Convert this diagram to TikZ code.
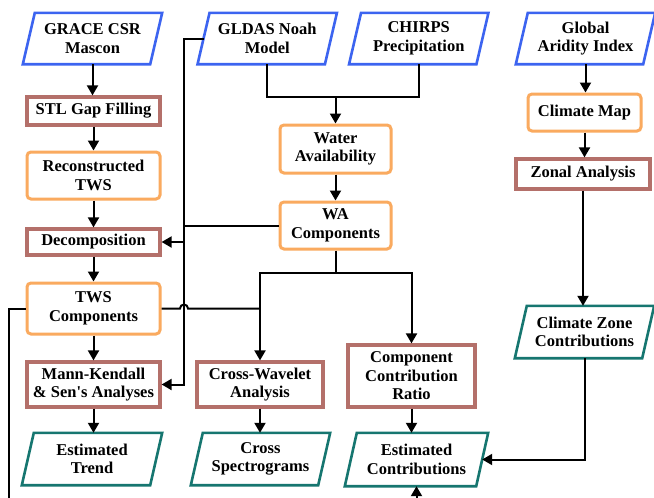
\documentclass[tikz,border=0pt]{standalone}
\usepackage{fontspec}
\setmainfont{Liberation Serif}
\usetikzlibrary{arrows.meta,positioning}
\definecolor{inblue}{RGB}{60,100,240}
\definecolor{procbrown}{RGB}{180,112,106}
\definecolor{midorange}{RGB}{250,170,95}
\definecolor{outteal}{RGB}{22,118,112}
\newcommand\paral[2]{\draw[#2,line width=2.6pt,line join=miter] ([xshift=6pt]#1.north west) -- ([xshift=6pt]#1.north east) -- ([xshift=-6pt]#1.south east) -- ([xshift=-6pt]#1.south west) -- cycle;}
\begin{document}
\begin{tikzpicture}[x=1pt,y=-1pt,
  every node/.style={font=\fontsize{16.5}{18.5}\selectfont\bfseries, align=center, inner sep=0pt},
  parabox/.style={draw=none, minimum height=51pt, minimum width=127pt},
  procbox/.style={draw=procbrown, line width=3.2pt, minimum width=133pt},
  midbox/.style={draw=midorange, line width=3pt, rounded corners=4pt, minimum width=133pt},
  conn/.style={line width=2pt, black},
  arr/.style={conn, -{Triangle[length=10pt,width=11pt]}}]
\useasboundingbox (0,0) rectangle (654,498);
\clip (0,0) rectangle (654,498);
\fill[white] (0,0) rectangle (654,498);
% inputs
\node[parabox] (grace) at (92.5,38.5) {GRACE CSR\\Mascon};
\node[parabox] (gldas) at (267.25,38.5) {GLDAS Noah\\Model};
\node[parabox] (chirps) at (418.75,38.5) {CHIRPS\\Precipitation};
\node[parabox] (arid) at (585.5,38.5) {Global\\Aridity Index};
\paral{grace}{inblue}
\paral{gldas}{inblue}
\paral{chirps}{inblue}
\paral{arid}{inblue}
% left column
\node[procbox, minimum height=28pt] (stl) at (93.5,111) {STL Gap Filling};
\node[midbox, minimum height=47pt] (recon) at (93.5,175.5) {Reconstructed\\TWS};
\node[procbox, minimum height=26pt] (decomp) at (93.5,242) {Decomposition};
\node[midbox, minimum height=51pt] (twsc) at (93.5,308.5) {TWS\\Components};
\node[procbox, minimum height=45pt] (mk) at (93.5,384.5) {Mann-Kendall\\\& Sen\textquotesingle s Analyses};
\node[parabox, minimum width=128pt, minimum height=52pt] (trend) at (92,459) {Estimated\\Trend};
\paral{trend}{outteal}
% middle
\node[midbox, minimum width=111pt, minimum height=48pt] (wav) at (335.5,149) {Water\\Availability};
\node[midbox, minimum width=111pt, minimum height=47pt] (wac) at (335.5,225.5) {WA\\Components};
\node[procbox, minimum width=126pt, minimum height=45pt] (cwa) at (260,384.5) {Cross-Wavelet\\Analysis};
\node[parabox, minimum height=52pt] (cspec) at (260.5,459) {Cross\\Spectrograms};
\paral{cspec}{outteal}
\node[procbox, minimum width=127pt, minimum height=62pt] (ccr) at (411.5,376) {Component\\Contribution\\Ratio};
\node[parabox, minimum width=131pt, minimum height=53pt] (ec) at (416.5,459.5) {Estimated\\Contributions};
\paral{ec}{outteal}
% right column
\node[midbox, minimum width=113pt, minimum height=37pt] (cmap) at (584.5,112.5) {Climate Map};
\node[procbox, minimum width=134pt, minimum height=30pt] (zonal) at (583,174) {Zonal Analysis};
\node[parabox, minimum height=52pt] (czc) at (584.5,332) {Climate Zone\\Contributions};
\paral{czc}{outteal}
% connectors: left column
\draw[arr] (grace.south) -- (grace.south |- stl.north);
\draw[arr] (stl.south) -- (recon.north);
\draw[arr] (recon.south) -- (decomp.north);
\draw[arr] (decomp.south) -- (twsc.north);
\draw[arr] (twsc.south) -- (mk.north);
\draw[arr] (mk.south) -- (mk.south |- trend.north);
% inputs to water availability
\coordinate (j1) at (335.5,97);
\draw[conn] (gldas.south) |- (j1);
\draw[conn] (chirps.south) |- (j1);
\draw[arr] (j1) -- (wav.north);
\draw[arr] (wav.south) -- (wac.north);
% left bus
\coordinate (bustop) at (184,38.5);
\draw[arr] (gldas.west) -- (bustop) |- (mk.east);
\draw[arr] (bustop |- decomp.east) -- (decomp.east);
\draw[conn] (wac.west) -- (bustop |- wac.west);
% WA components split
\coordinate (j2) at (335.5,273);
\draw[arr] (wac.south) -- (j2) -| (cwa.north);
\draw[arr] (j2) -| (ccr.north);
% TWS components to cross wavelet with hop
\coordinate (hopl) at (180,308.5);
\draw[conn] (twsc.east) -- (hopl) arc[start angle=180, end angle=0, radius=4pt] -- (cwa.north |- twsc.east);
% TWS components to estimated contributions (route below)
\coordinate (lowleft) at (9,530);
\draw[arr] (twsc.west) -- (lowleft |- twsc.west) -- (lowleft) -| (ec.south);
\draw[arr] (cwa.south) -- (cwa.south |- cspec.north);
\draw[arr] (ccr.south) -- (ccr.south |- ec.north);
% right column
\draw[arr] (arid.south) -- (arid.south |- cmap.north);
\draw[arr] (cmap.south) -- (cmap.south |- zonal.north);
\draw[arr] (zonal.south) -- (zonal.south |- czc.north);
\draw[arr] (czc.south) |- (ec.east);
\end{tikzpicture}
\end{document}
